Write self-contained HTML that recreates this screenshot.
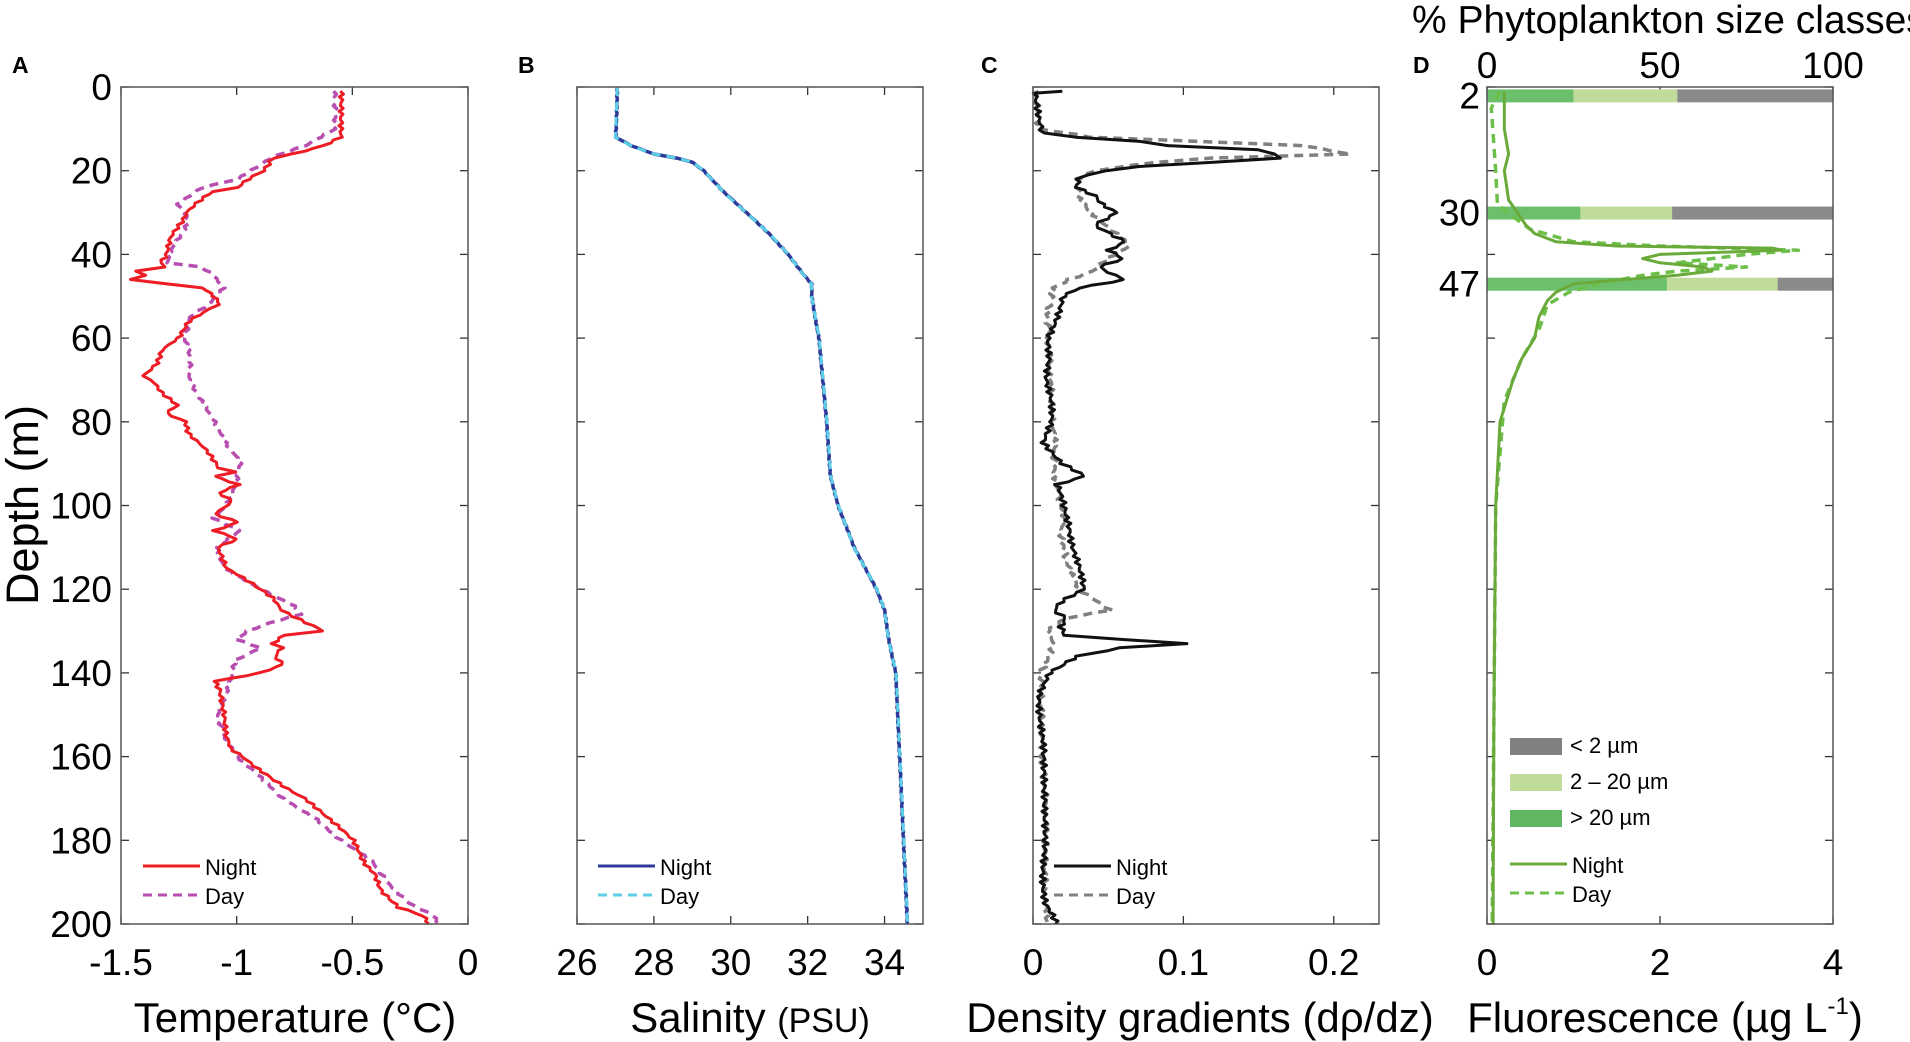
<!DOCTYPE html>
<html><head><meta charset="utf-8"><style>
html,body{margin:0;padding:0;background:#fff;}
svg{display:block;font-family:"Liberation Sans",Arial,sans-serif;}
</style></head><body>
<svg id="s" width="1910" height="1042" viewBox="0 0 1910 1042" xmlns="http://www.w3.org/2000/svg">
<g font-weight="bold" font-size="23">
<text x="12" y="73">A</text><text x="518" y="73">B</text><text x="981" y="73">C</text><text x="1413" y="73">D</text>
</g>
<text x="1412" y="33" font-size="39">% Phytoplankton size classes</text>
<text transform="translate(38,505) rotate(-90)" text-anchor="middle" font-size="45">Depth (m)</text>
<g font-size="42" text-anchor="middle">
<text x="295" y="1032">Temperature (°C)</text>
<text x="750" y="1032">Salinity <tspan font-size="34">(PSU)</tspan></text>
<text x="1200" y="1032">Density gradients (dρ/dz)</text>
<text x="1665" y="1032">Fluorescence (µg L<tspan font-size="24" dy="-18">-1</tspan><tspan dy="18">)</tspan></text>
</g>
<g id="g"></g>
</svg>
<script>
var NS="http://www.w3.org/2000/svg",G=document.getElementById('g');
function el(t,a,txt){var e=document.createElementNS(NS,t);for(var k in a)e.setAttribute(k,a[k]);if(txt!==undefined)e.textContent=txt;G.appendChild(e);return e;}
var T=87,B=924,H=B-T;
function Y(d){return T+d*H/200;}
function panel(L,R,x0,x1,ticks,ylab){
 var X=function(v){return L+(v-x0)/(x1-x0)*(R-L);};
 for(var d=0;d<=200;d+=20){var y=Y(d);
  el('line',{x1:L,y1:y,x2:L+8,y2:y,stroke:'#333','stroke-width':1.3});
  el('line',{x1:R-8,y1:y,x2:R,y2:y,stroke:'#333','stroke-width':1.3});
  if(ylab)el('text',{x:112,y:y+13,'font-size':37,'text-anchor':'end'},String(d));}
 ticks.forEach(function(t){var x=X(t[0]);
  el('line',{x1:x,y1:B,x2:x,y2:B-8,stroke:'#333','stroke-width':1.3});
  el('line',{x1:x,y1:T,x2:x,y2:T+8,stroke:'#333','stroke-width':1.3});
  el('text',{x:x,y:975,'font-size':37,'text-anchor':'middle'},t[1]);});
 return X;}
function dense(pts,amp,seed){var out=[];for(var i=0;i<pts.length-1;i++){var a=pts[i],b=pts[i+1];var n=Math.max(1,Math.round((b[0]-a[0])/0.7));
 for(var k=0;k<n;k++){var f=k/n,d=a[0]+(b[0]-a[0])*f,v=a[1]+(b[1]-a[1])*f;
  var j=amp*(Math.sin(d*3.7+seed)*0.6+Math.sin(d*9.1+seed*2)*0.4);out.push([d,v+j]);}}
 out.push(pts[pts.length-1]);return out;}
function line(X,pts,col,w,dash){var s=pts.map(function(p){return X(p[1]).toFixed(1)+','+Y(p[0]).toFixed(1);}).join(' ');
 var a={points:s,fill:'none',stroke:col,'stroke-width':w,'stroke-linejoin':'round'};if(dash)a['stroke-dasharray']=dash;el('polyline',a);}
function leg(x,y,col,dcol,dash){el('line',{x1:x,y1:y,x2:x+57,y2:y,stroke:col,'stroke-width':3});
 el('text',{x:x+62,y:y+9,'font-size':22},'Night');
 el('line',{x1:x,y1:y+29,x2:x+57,y2:y+29,stroke:dcol,'stroke-width':3,'stroke-dasharray':dash});
 el('text',{x:x+62,y:y+38,'font-size':22},'Day');}
function frame(L,R){el('rect',{x:L,y:T,width:R-L,height:H,fill:'none',stroke:'#555','stroke-width':1.5});}

// A
var XA=panel(121,468,-1.5,0,[[-1.5,'-1.5'],[-1,'-1'],[-0.5,'-0.5'],[0,'0']],true);
var aN=[[1,-.55],[12,-.55],[14,-.62],[16,-.75],[17,-.85],[20,-.88],[22,-.95],[24,-1],[25,-1.1],[27,-1.15],[30,-1.22],[33,-1.25],[36,-1.28],[40,-1.3],[42,-1.33],[43,-1.3],[44,-1.45],[45,-1.38],[46,-1.47],[47,-1.3],[48,-1.15],[50,-1.1],[52,-1.07],[53,-1.12],[56,-1.2],[60,-1.25],[63,-1.32],[66,-1.35],[69,-1.4],[70,-1.37],[73,-1.33],[76,-1.25],[78,-1.3],[80,-1.22],[83,-1.2],[86,-1.15],[89,-1.1],[91,-1.08],[92,-1],[93,-1.1],[95,-1],[97,-1.08],[99,-1.02],[102,-1.1],[104,-1],[106,-1.1],[108,-1],[110,-1.08],[115,-1.05],[118,-.95],[120,-.9],[122,-.85],[125,-.8],[128,-.7],[130,-.62],[131,-.8],[133,-.85],[134,-.8],[136,-.83],[138,-.8],[140,-.9],[142,-1.1],[144,-1.08],[150,-1.05],[155,-1.05],[158,-1.03],[160,-.98],[163,-.9],[167,-.8],[170,-.7],[175,-.6],[180,-.5],[185,-.45],[188,-.4],[192,-.37],[196,-.3],[198,-.2],[200,-.17]];
var aD=[[1,-.57],[10,-.57],[14,-.7],[17,-.85],[22,-1],[24,-1.15],[26,-1.2],[28,-1.25],[32,-1.2],[36,-1.25],[40,-1.3],[42,-1.3],[43,-1.15],[45,-1.1],[48,-1.05],[52,-1.12],[55,-1.2],[60,-1.23],[65,-1.2],[70,-1.2],[75,-1.15],[80,-1.1],[85,-1.05],[88,-1],[90,-.98],[95,-1],[100,-1.05],[103,-1.1],[106,-.98],[110,-1.08],[115,-1.05],[120,-.9],[124,-.75],[126,-.72],[128,-.85],[130,-.95],[132,-1],[134,-.9],[137,-1],[140,-1.02],[145,-1.05],[150,-1.08],[155,-1.05],[160,-1],[165,-.9],[170,-.8],[175,-.65],[180,-.55],[185,-.42],[190,-.35],[195,-.25],[198,-.15],[200,-.13]];
line(XA,dense(aD,0.012,1),'#b84fb0',3.5,'9,6');line(XA,dense(aN,0.015,2),'#ee1c24',3);frame(121,468);leg(143,866,'#ee1c24','#b84fb0','9,6');

// B
var XB=panel(577,923,26,35,[[26,'26'],[28,'28'],[30,'30'],[32,'32'],[34,'34']],false);
var bN=[[0,27.05],[12,27],[14,27.4],[16,28],[17,28.6],[18,29],[20,29.3],[25,29.8],[30,30.4],[35,31],[40,31.5],[45,31.9],[47,32.1],[50,32.1],[60,32.3],[80,32.5],[93,32.6],[100,32.8],[110,33.2],[120,33.8],[125,34],[132,34.1],[136,34.2],[140,34.3],[160,34.4],[180,34.5],[200,34.6]];
line(XB,dense(bN,0.02,3),'#2e3a9a',3.5);line(XB,bN,'#5ccfe6',3,'9,6');frame(577,923);leg(598,866,'#2e3a9a','#5ccfe6','9,6');

// C
var XC=panel(1033,1379,0,0.2301,[[0,'0'],[0.1,'0.1'],[0.2,'0.2']],false);
var cN=[[1,.018],[1.5,.003],[8,.003],[11,.006],[12,.03],[13,.07],[14,.09],[15,.15],[16,.16],[17,.165],[18,.12],[19,.07],[20,.05],[21,.035],[22,.03],[24,.028],[26,.04],[28,.045],[30,.055],[33,.04],[35,.05],[37,.06],[39,.05],[41,.06],[43,.045],[45,.055],[46,.06],[48,.03],[50,.02],[55,.015],[60,.01],[65,.012],[70,.009],[75,.011],[80,.012],[85,.008],[90,.02],[93,.033],[95,.015],[100,.02],[105,.025],[110,.027],[115,.03],[120,.033],[123,.02],[125,.015],[127,.022],[129,.018],[131,.02],[132,.06],[133,.1],[134,.06],[136,.03],[140,.01],[145,.005],[160,.006],[180,.007],[195,.008],[200,.015]];
var cD=[[1,.003],[10,.005],[12,.04],[14,.18],[16,.21],[17,.12],[18,.08],[20,.04],[22,.03],[26,.03],[30,.04],[35,.055],[38,.063],[41,.05],[44,.04],[46,.025],[48,.015],[55,.01],[80,.012],[90,.015],[100,.018],[108,.02],[115,.025],[120,.03],[125,.05],[127,.02],[130,.01],[133,.015],[140,.005],[160,.006],[200,.01]];
line(XC,dense(cD,0.003,4),'#808080',3.5,'9,6');line(XC,dense(cN,0.003,5),'#111',3);frame(1033,1379);leg(1054,866,'#111','#808080','9,6');

// D
var L=1487,R=1833;
var XD=panel(L,R,0,4,[[0,'0'],[2,'2'],[4,'4']],false);
var P=function(v){return L+v/100*(R-L);};
[[2,25,55],[30,27,53.5],[47,52,84]].forEach(function(b){var y=Y(b[0])-6;
 el('rect',{x:P(0),y:y,width:P(b[1])-P(0),height:13,fill:'#6cbf6c'});
 el('rect',{x:P(b[1]),y:y,width:P(b[2])-P(b[1]),height:13,fill:'#c0dc9a'});
 el('rect',{x:P(b[2]),y:y,width:P(100)-P(b[2]),height:13,fill:'#8a8a8a'});
 el('text',{x:1480,y:Y(b[0])+13,'font-size':37,'text-anchor':'end'},String(b[0]));});
[[0,'0'],[50,'50'],[100,'100']].forEach(function(t){el('text',{x:P(t[0]),y:78,'font-size':37,'text-anchor':'middle'},t[1]);});
var dN=[[1,.2],[10,.2],[16,.25],[20,.2],[27,.25],[30,.35],[33,.45],[35,.55],[37,.8],[38,1.5],[38.5,3.3],[39,3.4],[40,2],[41,1.8],[42,2],[43,2.5],[44,2.6],[45,2.2],[46,1.6],[47,1],[49,.8],[51,.7],[55,.6],[60,.55],[65,.4],[70,.3],[80,.15],[100,.1],[150,.08],[200,.07]];
var dD=[[1,.15],[5,.05],[20,.1],[28,.12],[31,.3],[34,.5],[37,1],[38,2],[39,3.6],[40,3],[42,2.2],[43,3],[44,2.2],[45,1.8],[47,1.3],[49,.95],[52,.7],[58,.6],[65,.4],[75,.2],[100,.1],[200,.06]];
line(XD,dD,'#6cc04a',3.5,'9,6');line(XD,dN,'#6aaa3a',3);frame(L,R);
[['#808080','< 2 µm',738],['#c0dc9a','2 – 20 µm',774],['#62b862','> 20 µm',810]].forEach(function(r){
 el('rect',{x:1510,y:r[2],width:52,height:17,fill:r[0]});el('text',{x:1570,y:r[2]+15,'font-size':22},r[1]);});
leg(1510,864,'#6aaa3a','#6cc04a','9,6');
</script>
</body></html>
